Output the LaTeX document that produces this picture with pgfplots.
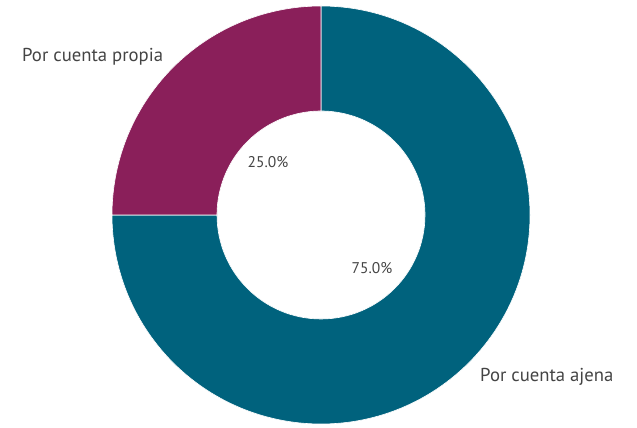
\documentclass[border=0pt]{standalone}
\usepackage{pgfplots}
\pgfplotsset{compat=1.18}
\usepackage{fontspec}
\setmainfont{PT Sans}
\definecolor{ajena}{HTML}{00627D}
\definecolor{propia}{HTML}{8A1F5A}
\definecolor{txt}{HTML}{444444}
\begin{document}
\begin{tikzpicture}
\begin{axis}[
  width=637bp, height=428bp, scale only axis,
  xmin=0, xmax=637, ymin=0, ymax=428,
  hide axis, clip=false,
]
\path (axis cs:0,0) rectangle (axis cs:637,428);
% data: share in percent
\pgfmathsetmacro{\vA}{75}% Por cuenta ajena
\pgfmathsetmacro{\vP}{25}% Por cuenta propia
\pgfmathsetmacro{\aS}{90}
\pgfmathsetmacro{\aA}{90-3.6*\vA}
\pgfmathsetmacro{\aP}{\aA-3.6*\vP}
\def\ro{209bp}\def\ri{104bp}
\fill[ajena, draw=white, line width=0.6pt] (axis cs:321,213) ++(\aS:\ro) arc[start angle=\aS, end angle=\aA, radius=\ro] -- ++(\aA:-105bp) arc[start angle=\aA, end angle=\aS, radius=\ri] -- cycle;
\fill[propia, draw=white, line width=0.6pt] (axis cs:321,213) ++(\aA:\ro) arc[start angle=\aA, end angle=\aP, radius=\ro] -- ++(\aP:-105bp) arc[start angle=\aP, end angle=\aA, radius=\ri] -- cycle;
\node[txt, font=\fontsize{15.5bp}{18bp}\selectfont] at (axis cs:268,266) {25.0\%};
\node[txt, font=\fontsize{15.5bp}{18bp}\selectfont] at (axis cs:372,160) {75.0\%};
\node[txt, font=\fontsize{18.7bp}{21bp}\selectfont, anchor=west, inner sep=0pt] at (axis cs:22,371) {Por cuenta propia};
\node[txt, font=\fontsize{18.7bp}{21bp}\selectfont, anchor=west, inner sep=0pt] at (axis cs:480,51) {Por cuenta ajena};
\end{axis}
\end{tikzpicture}
\end{document}
